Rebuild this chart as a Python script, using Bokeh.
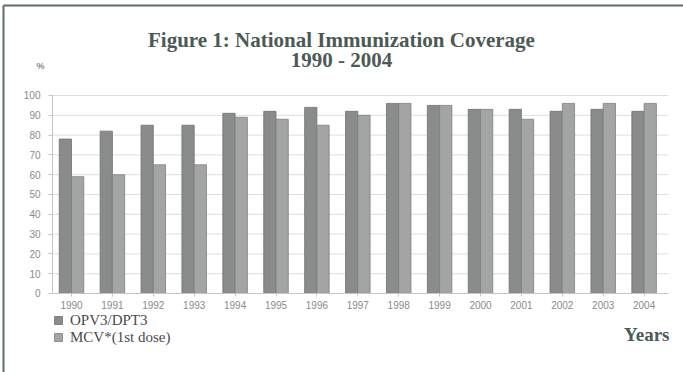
from bokeh.plotting import figure
from bokeh.models import (ColumnDataSource, FixedTicker, Label, Legend, LegendItem,
                          Range1d, LinearAxis)
from bokeh.transform import dodge
from bokeh.embed import file_html
from bokeh.resources import INLINE

# ---- data ----
years = ["1990", "1991", "1992", "1993", "1994", "1995", "1996", "1997",
         "1998", "1999", "2000", "2001", "2002", "2003", "2004"]
opv3_dpt3 = [78, 82, 85, 85, 91, 92, 94, 92, 96, 95, 93, 93, 92, 93, 92]
mcv_1st = [59, 60, 65, 65, 89, 88, 85, 90, 96, 95, 93, 88, 96, 96, 96]
y_ticks = [0, 10, 20, 30, 40, 50, 60, 70, 80, 90, 100]

idx = list(range(len(years)))
src = ColumnDataSource(dict(x=idx, opv=opv3_dpt3, mcv=mcv_1st))

# plotting area spans whole canvas; chart region: x -0.4645..14.597, y 0..100
X0, X1 = -0.4645, 14.597
p = figure(width=683, height=372, output_backend="svg", toolbar_location=None,
           x_range=Range1d(-1.736, 14.963), y_range=Range1d(-39.9, 147.98),
           x_axis_location=None, y_axis_location=None,
           min_border=0)
p.background_fill_color = "white"
p.border_fill_color = "white"
p.outline_line_color = None
p.xgrid.grid_line_color = None
p.ygrid.grid_line_color = None

# grid lines across chart region
p.segment(x0=[X0] * len(y_ticks[1:]), x1=[X1] * len(y_ticks[1:]),
          y0=y_ticks[1:], y1=y_ticks[1:], line_color="#dedede", line_width=1)

OPV_C = "#8a8c8b"
MCV_C = "#a3a5a4"
bw = 0.3
r1 = p.vbar(x=dodge("x", -bw / 2, range=p.x_range), top="opv", width=bw, bottom=0,
            source=src, fill_color=OPV_C, line_color="#6f7170", line_width=0.8)
r2 = p.vbar(x=dodge("x", bw / 2, range=p.x_range), top="mcv", width=bw, bottom=0,
            source=src, fill_color=MCV_C, line_color="#7d7f7e", line_width=0.8)

# axes (floating, drawn at the chart edges)
xax = LinearAxis(fixed_location=0, bounds=(X0, X1),
                 ticker=FixedTicker(ticks=idx),
                 major_label_overrides={i: y for i, y in zip(idx, years)})
yax = LinearAxis(fixed_location=X0, bounds=(0, 100),
                 ticker=FixedTicker(ticks=y_ticks))
for ax in (xax, yax):
    ax.axis_line_color = "#c4c4c4"
    ax.major_tick_line_color = "#c4c4c4"
    ax.minor_tick_line_color = None
    ax.major_tick_in = 0
    ax.major_label_text_color = "#8a8a8a"
    ax.major_label_text_font = "Liberation Sans"
    ax.major_label_text_font_size = "10px"
yax.major_tick_out = 4
yax.major_label_standoff = 8
xax.major_tick_out = 3
xax.major_label_standoff = 5
p.add_layout(xax, "below")
p.add_layout(yax, "left")

TITLE_C = "#4b5a55"
SERIF = "Liberation Serif"

p.add_layout(Label(x=6.60, y=127.8, text="Figure 1: National Immunization Coverage",
                   text_align="center", text_baseline="alphabetic",
                   text_font=SERIF, text_font_style="bold", text_font_size="21px",
                   text_color=TITLE_C))
p.add_layout(Label(x=6.60, y=117.9, text="1990 - 2004",
                   text_align="center", text_baseline="alphabetic",
                   text_font=SERIF, text_font_style="bold", text_font_size="21px",
                   text_color=TITLE_C))
p.add_layout(Label(x=-0.758, y=115, text="%", text_align="center",
                   text_baseline="middle", text_font="Liberation Sans",
                   text_font_size="9px", text_font_style="bold",
                   text_color="#8a8a8a"))
p.add_layout(Label(x=14.62, y=-20.7, text="Years", text_align="right",
                   text_baseline="alphabetic", text_font=SERIF,
                   text_font_style="bold", text_font_size="19px",
                   text_color=TITLE_C))

legend = Legend(items=[LegendItem(label="OPV3/DPT3", renderers=[r1]),
                       LegendItem(label="MCV*(1st dose)", renderers=[r2])],
                location=(53, 26.5), orientation="vertical")
legend.glyph_width = 10
legend.glyph_height = 10
legend.label_standoff = 7
legend.spacing = -1
legend.padding = 0
legend.margin = 0
legend.label_text_font = SERIF
legend.label_text_font_size = "15px"
legend.label_text_color = "#4a4a4a"
legend.label_height = 14
legend.border_line_color = None
legend.background_fill_alpha = 0
p.add_layout(legend, "center")

# outer frame lines (top and left)
BORDER_C = "#5f6e69"
p.segment(x0=[-1.663, -1.663], y0=[145.5, 145.5], x1=[15.2, -1.663], y1=[145.5, -45],
          line_color=BORDER_C, line_width=2)

open("out.html", "w").write(file_html(p, INLINE))
